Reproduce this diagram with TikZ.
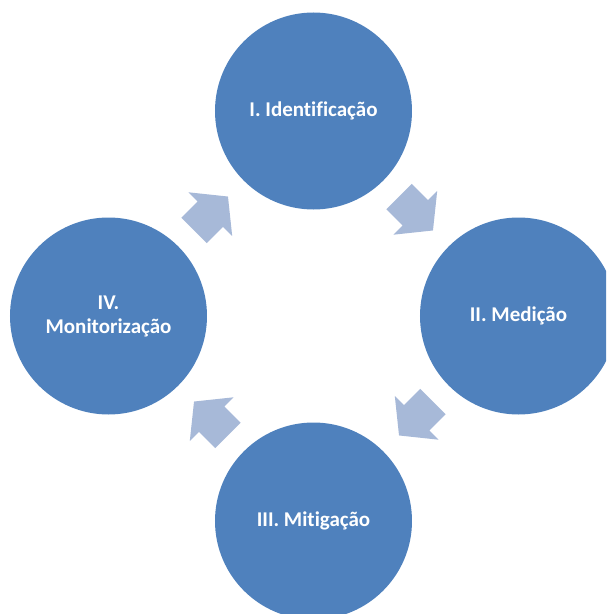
\documentclass[tikz,border=0pt]{standalone}
\usepackage{fontspec}
\setmainfont{Carlito}[Ligatures={NoCommon}]
\usetikzlibrary{calc}
\definecolor{circblue}{RGB}{79,129,189}
\definecolor{arrowblue}{RGB}{167,185,216}
\tikzset{
  stage/.style={circle, fill=circblue, minimum size=197pt, inner sep=0pt,
    text=white, align=center, font=\bfseries\fontsize{21}{24}\selectfont},
  flowarrow/.style={fill=arrowblue}
}
\begin{document}
\begin{tikzpicture}[x=1pt, y=1pt]
\clip (-313.5, -298) rectangle (292.5, 316);
% Fasi del ciclo
\node[stage] (i) at (0, 205) {I. Identificação};
\node[stage] (ii) at (205, 0) {II. Medição};
\node[stage] (iii) at (0, -205) {III. Mitigação};
\node[stage] (iv) at (-205, 0) {IV.\\Monitorização};
% Frecce tra le fasi
\foreach \a/\b/\r in {iv/i/45, i/ii/-45, ii/iii/-135, iii/iv/135}
  \fill[flowarrow, shift={($(\a)!.5!(\b)$)}, rotate=\r]
    (-24, 18) -- (-1, 18) -- (-1, 31) -- (24, 0) -- (-1, -31) -- (-1, -18) -- (-24, -18) -- cycle;
\end{tikzpicture}
\end{document}
